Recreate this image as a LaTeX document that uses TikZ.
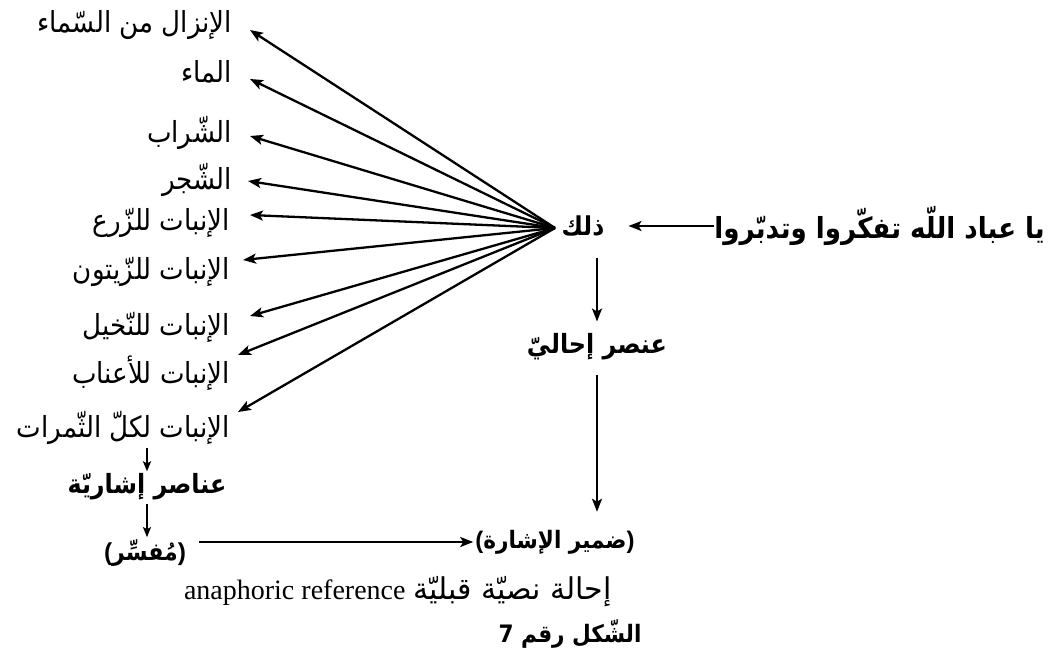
\documentclass[tikz,border=0pt]{standalone}
\usepackage{fontspec}
\usetikzlibrary{arrows.meta}
\TeXXeTstate=1
\newfontfamily\ar[Script=Arabic,FakeStretch=0.9,BoldFont={DejaVu Sans Bold},BoldFeatures={FakeStretch=0.9}]{DejaVu Sans}
\newfontfamily\arw[Script=Arabic]{DejaVu Sans}
\newfontfamily\lat{Liberation Serif}
\newfontfamily\las{Liberation Sans}
\newcommand{\AR}[1]{\beginR #1\endR}
\newcommand{\PAR}[1]{{\las\bfseries(}\AR{#1}{\las\bfseries)}}
\tikzset{
  lbl/.style={font=\ar\fontsize{29}{33}\selectfont, inner sep=0pt, anchor=east},
  bld/.style={font=\ar\bfseries\fontsize{26.5}{30}\selectfont, inner sep=0pt},
  arr/.style={-{Stealth[length=13pt,width=10pt,inset=3pt]}, line width=2.3pt},
  sarr/.style={-{Stealth[length=10pt,width=8pt,inset=2pt]}, line width=1.7pt},
}
\begin{document}
\begin{tikzpicture}[x=1pt,y=-1pt]
\useasboundingbox (0,0) rectangle (1055,663);
\fill[white] (0,0) rectangle (1055,663);
% left labels
\node[lbl] (l1) at (232,25)  {\AR{الإنزال من السّماء}};
\node[lbl] (l2) at (232,72)  {\AR{الماء}};
\node[lbl] (l3) at (232,133) {\AR{الشّراب}};
\node[lbl] (l4) at (232,180) {\AR{الشّجر}};
\node[lbl] (l5) at (230,223) {\AR{الإنبات للزّرع}};
\node[lbl] (l6) at (230,272) {\AR{الإنبات للزّيتون}};
\node[lbl] (l7) at (230,327) {\AR{الإنبات للنّخيل}};
\node[lbl] (l8) at (230,373) {\AR{الإنبات للأعناب}};
\node[lbl] (l9) at (230,428) {\AR{الإنبات لكلّ الثّمرات}};
% arrow tips
\coordinate (t1) at (250,30);
\coordinate (t2) at (250,79);
\coordinate (t3) at (250,136);
\coordinate (t4) at (248,181);
\coordinate (t5) at (250,215);
\coordinate (t6) at (243,260);
\coordinate (t7) at (250,316);
\coordinate (t8) at (238,355);
\coordinate (t9) at (238,412);
\coordinate (apex) at (555,228);
\foreach \i in {1,...,9} \draw[arr] (apex) -- (t\i);
% right part
\node[bld, font=\ar\bfseries\fontsize{26}{30}\selectfont] (dh) at (583,226) {\AR{ذلك}};
\node[bld, font=\ar\bfseries\fontsize{29}{33}\selectfont, anchor=east] (ya) at (1045,226) {\AR{يا عباد اللّه تفكّروا وتدبّروا}};
\draw[arr, shorten >=24pt] (ya.west |- dh.east) -- (dh.east);
\node[bld] (ih) at (597,347) {\AR{عنصر إحاليّ}};
\draw[arr, shorten <=22pt, shorten >=12pt] (dh.south -| ih.north) -- (ih.north);
\node[bld, font=\ar\bfseries\fontsize{24}{28}\selectfont] (dm) at (555,542) {\PAR{ضمير الإشارة}};
\draw[arr, shorten <=14pt, shorten >=18pt] (ih.south) -- (ih.south |- dm.north);
% left bottom
\node[bld] (an) at (147,487) {\AR{عناصر إشاريّة}};
\draw[sarr, shorten <=3pt, shorten >=2pt] (l9.south -| an.north) -- (an.north);
\node[bld, font=\ar\bfseries\fontsize{24.5}{28}\selectfont] (mf) at (145,553) {\PAR{مُفسِّر}};
\draw[sarr, shorten <=3pt, shorten >=2pt] (an.south) -- (an.south |- mf.north);
\draw[arr, shorten <=13pt, shorten >=2pt] (mf.east |- dm.west) -- (dm.west);
% bottom texts
\node[inner sep=0pt, anchor=east] (ref) at (612,592) {{\lat\fontsize{28}{30}\selectfont anaphoric reference}\hspace{8pt}{\arw\fontsize{30}{32}\selectfont\AR{إحالة نصيّة قبليّة}}};
\node[bld, font=\ar\bfseries\fontsize{24}{28}\selectfont] (cap) at (570,634) {\AR{الشّكل رقم 7}};
\end{tikzpicture}
\end{document}
